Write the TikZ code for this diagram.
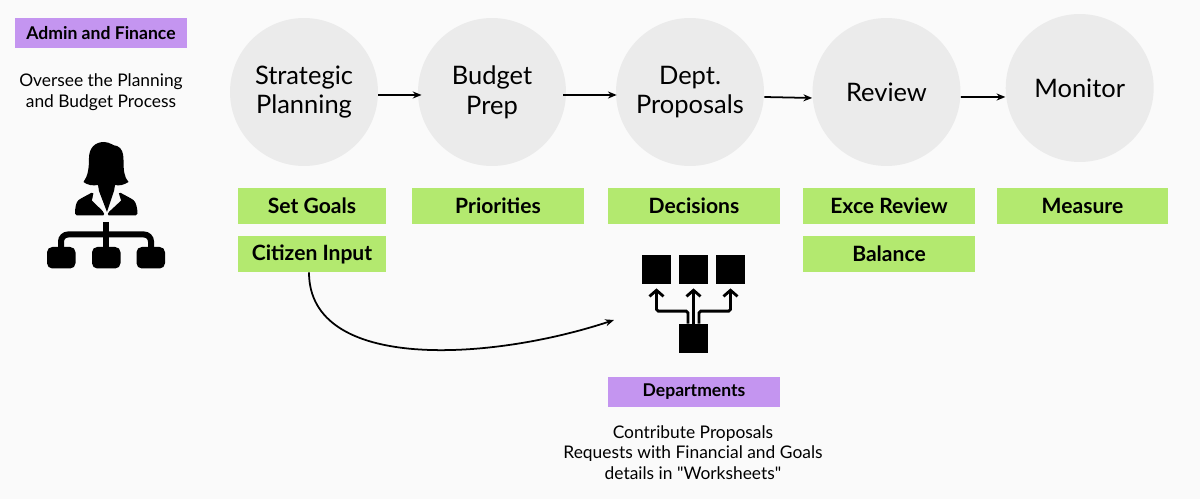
\documentclass[tikz,border=0pt]{standalone}
\usepackage{fontspec}
\setmainfont{Lato}
\newfontfamily\plainlato{Lato}
\usetikzlibrary{arrows.meta}
\definecolor{bgcol}{HTML}{FAFAFA}
\definecolor{circcol}{HTML}{EBEBEB}
\definecolor{greencol}{HTML}{B3E96F}
\definecolor{purplecol}{HTML}{C495F0}
\tikzset{
    stage/.style={circle,fill=circcol,minimum size=2.96cm,inner sep=0pt,align=center,font=\fontsize{14.5}{17}\selectfont},
    task/.style={fill=greencol,minimum height=0.72cm,inner sep=0pt,font=\fontsize{12}{14}\bfseries\selectfont},
    role/.style={fill=purplecol,minimum width=3.44cm,inner sep=0pt,font=\fontsize{10}{12}\bfseries\selectfont},
    note/.style={align=center,inner sep=0pt,font=\plainlato\fontsize{9.9}{11.8}\selectfont},
    sq/.style={fill=black,minimum size=0.58cm,inner sep=0pt},
    flow/.style={-{Stealth[length=5pt,width=4pt]},line width=1pt},
    up/.style={-{Straight Barb[length=3.5pt,width=8pt,line width=1.6pt]},line width=1.6pt}
}
\begin{document}
\begin{tikzpicture}[x=0.02cm,y=-0.02cm]
    \useasboundingbox[fill=bgcol] (0,0) rectangle (1200,499);
    \node[stage] (strategic) at (304,92) {Strategic\\Planning};
    \node[stage] (budget) at (492,92) {Budget\\Prep};
    \node[stage] (proposals) at (690,92) {Dept.\\Proposals};
    \node[stage] (review) at (886.5,92) {Review};
    \node[stage] (monitor) at (1079.7,88) {Monitor};
    \draw[flow,shorten >=-2.2pt] ([yshift=-0.06cm]strategic.east) -- ([yshift=-0.06cm]budget.west);
    \draw[flow,shorten <=-1.9pt,shorten >=-0.6pt] ([yshift=-0.06cm]budget.east) -- ([yshift=-0.06cm]proposals.west);
    \draw[flow] ([yshift=-0.1cm]proposals.east) -- ([yshift=-0.12cm]review.west);
    \draw[flow] ([yshift=-0.1cm]review.east) -- ([yshift=-0.18cm]monitor.west);
    \node[task,minimum width=2.96cm] (goals) at (312,206) {Set Goals};
    \node[task,minimum width=2.96cm] (citizen) at (312,254) {Citizen Input};
    \node[task,minimum width=3.44cm] (priorities) at (498,206) {Priorities};
    \node[task,minimum width=3.44cm] (decisions) at (694,206) {Decisions};
    \node[task,minimum width=3.44cm] (exce) at (889,206) {Exce Review};
    \node[task,minimum width=3.44cm] (balance) at (889,254) {Balance};
    \node[task,minimum width=3.44cm] (measure) at (1082.5,206) {Measure};
    \node[role,minimum height=0.6cm] (admin) at (101,33) {Admin and Finance};
    \node[note] (oversee) at (101,92) {Oversee the Planning\\and Budget Process};
    \node[role,minimum height=0.6cm] (departments) at (694,392) {Departments};
    \node[note] (contribute) at (693,452.5) {Contribute Proposals\\Requests with Financial and Goals\\details in "Worksheets"};
    \node[sq] (dept1) at (656.5,269.5) {};
    \node[sq] (dept2) at (693.5,269.5) {};
    \node[sq] (dept3) at (730.5,269.5) {};
    \node[sq] (dept4) at (693.5,338.5) {};
    \coordinate (curveend) at (614,320);
    \draw[flow] (citizen.south -| 309,0) .. controls (309,372) and (490,361) .. (curveend);
    \draw[up,rounded corners=1pt,shorten >=2.3pt] ([xshift=-0.11cm]dept4.north) -- ++(0,-12.5) -| (dept1.south);
    \draw[up,shorten >=2.3pt] (dept4.north) -- (dept2.south);
    \draw[up,rounded corners=1pt,shorten >=2.3pt] ([xshift=0.11cm]dept4.north) -- ++(0,-12.5) -| (dept3.south);
    % person and tree
    \fill (83.5,182) .. controls (88,176) and (89,168) .. (89,158) .. controls (89,148) and (95,142) .. (104,142)
        .. controls (110,142) and (113,146) .. (117,146) .. controls (122,148) and (123.5,153) .. (123.5,160)
        .. controls (123.5,170) and (124,177) .. (128.5,182) .. controls (124,185) and (119,186) .. (115,185)
        -- (114,191) -- (107,212) -- (99,191) -- (98,185) .. controls (93,186) and (87,185) .. (83.5,182) -- cycle;
    \fill[rounded corners=1pt] (75,215.5) .. controls (75,208) and (76,202) .. (80,199) -- (93,192) -- (105,215.5) -- cycle;
    \fill[rounded corners=1pt] (137.5,215.5) .. controls (137.5,208) and (136,202) .. (132,199) -- (119,192) -- (107,215.5) -- cycle;
    \fill[bgcol] (94,191) -- (92,200.5) -- (105.5,213.5) -- cycle;
    \fill[bgcol] (118,191) -- (121,200.5) -- (107,213.5) -- cycle;
    \draw[line width=0.12cm,rounded corners=4pt] (61,250) -- (61,234.5) -- (151,234.5) -- (151,250);
    \draw[line width=0.12cm] (106,222) -- (106,250);
    \fill[rounded corners=3pt] (47,247) rectangle (75.5,268.5);
    \fill[rounded corners=3pt] (92,247) rectangle (120.5,268.5);
    \fill[rounded corners=3pt] (136.5,247) rectangle (165,268.5);
\end{tikzpicture}
\end{document}
